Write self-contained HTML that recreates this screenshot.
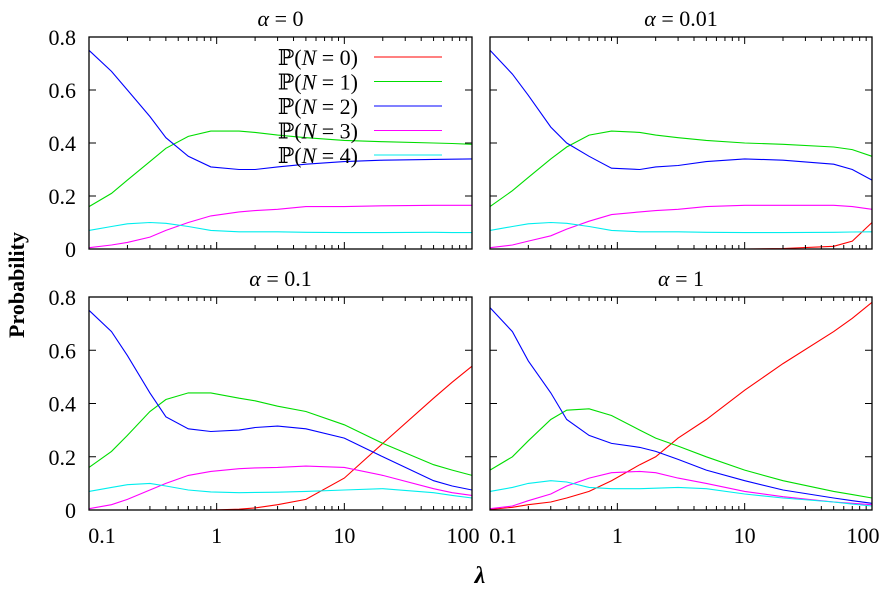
<!DOCTYPE html>
<html><head><meta charset="utf-8"><style>
body{margin:0;background:#fff}
text{font-family:"Liberation Serif","DejaVu Serif",serif}
</style></head><body>
<svg id="c" width="888" height="590" font-family="Liberation Serif, serif"></svg>
<script>
const xs=[0.1,0.15,0.2,0.3,0.4,0.6,0.9,1.5,2,3,5,10,20,50,70,100];
// alpha = 0
const a0_red=[0,0,0,0,0,0,0,0,0,0,0,0,0,0,0,0];
const a0_green=[0.16,0.21,0.26,0.33,0.38,0.425,0.445,0.445,0.44,0.43,0.42,0.41,0.405,0.4,0.398,0.395];
const a0_blue=[0.75,0.67,0.6,0.5,0.42,0.35,0.31,0.3,0.3,0.31,0.32,0.33,0.335,0.338,0.339,0.34];
const a0_mag=[0.005,0.015,0.025,0.045,0.07,0.1,0.125,0.14,0.145,0.15,0.16,0.16,0.163,0.165,0.165,0.165];
const a0_cyan=[0.07,0.085,0.095,0.1,0.097,0.085,0.07,0.065,0.065,0.065,0.063,0.062,0.062,0.063,0.062,0.062];
// alpha = 0.01
const a1_red=[0,0,0,0,0,0,0,0,0,0,0,0,0.002,0.01,0.03,0.1];
const a1_green=[0.16,0.22,0.27,0.34,0.385,0.43,0.445,0.44,0.43,0.42,0.41,0.4,0.395,0.385,0.375,0.35];
const a1_blue=[0.75,0.66,0.58,0.46,0.4,0.35,0.305,0.3,0.31,0.315,0.33,0.34,0.335,0.32,0.3,0.26];
const a1_mag=[0.005,0.015,0.03,0.05,0.075,0.105,0.13,0.14,0.145,0.15,0.16,0.165,0.165,0.165,0.16,0.15];
const a1_cyan=[0.07,0.085,0.095,0.1,0.097,0.085,0.07,0.065,0.065,0.065,0.063,0.062,0.062,0.063,0.064,0.065];
// alpha = 0.1
const a2_red=[0,0,0,0,0,0,0,0.003,0.008,0.02,0.04,0.12,0.25,0.42,0.48,0.54];
const a2_green=[0.16,0.22,0.28,0.37,0.415,0.44,0.44,0.42,0.41,0.39,0.37,0.32,0.25,0.17,0.15,0.13];
const a2_blue=[0.75,0.67,0.58,0.44,0.35,0.305,0.295,0.3,0.31,0.315,0.305,0.27,0.2,0.11,0.09,0.075];
const a2_mag=[0.005,0.02,0.04,0.075,0.1,0.13,0.145,0.155,0.158,0.16,0.165,0.16,0.13,0.08,0.065,0.055];
const a2_cyan=[0.07,0.085,0.095,0.1,0.09,0.075,0.068,0.065,0.066,0.067,0.07,0.075,0.08,0.065,0.055,0.045];
// alpha = 1
const a3_red=[0.002,0.01,0.02,0.03,0.045,0.07,0.11,0.17,0.2,0.27,0.34,0.45,0.55,0.67,0.72,0.78];
const a3_green=[0.15,0.2,0.26,0.34,0.375,0.38,0.355,0.3,0.27,0.24,0.2,0.15,0.11,0.07,0.058,0.045];
const a3_blue=[0.76,0.67,0.56,0.44,0.34,0.28,0.25,0.235,0.22,0.19,0.15,0.11,0.075,0.045,0.035,0.025];
const a3_mag=[0.005,0.015,0.035,0.06,0.09,0.12,0.14,0.145,0.14,0.12,0.1,0.07,0.05,0.03,0.025,0.02];
const a3_cyan=[0.07,0.085,0.1,0.11,0.105,0.085,0.08,0.08,0.082,0.085,0.08,0.06,0.045,0.03,0.022,0.015];
const titles=["α = 0","α = 0.01","α = 0.1","α = 1"];
const yTicks=[0,0.2,0.4,0.6,0.8];
const xTicks=[0.1,1,10,100];
const xTickLabels=["0.1","1","10","100"];
const legendLabels=["0","1","2","3","4"];
const colors=["#ff0000","#00dd00","#0000ff","#ff00ff","#00eeee"];
const panelsData=[[a0_red,a0_green,a0_blue,a0_mag,a0_cyan],[a1_red,a1_green,a1_blue,a1_mag,a1_cyan],[a2_red,a2_green,a2_blue,a2_mag,a2_cyan],[a3_red,a3_green,a3_blue,a3_mag,a3_cyan]];
const NS="http://www.w3.org/2000/svg";
const FF="Liberation Serif, DejaVu Serif, serif";
const svg=document.getElementById('c');
function mk(t,a,p){const e=document.createElementNS(NS,t);for(const k in a)e.setAttribute(k,a[k]);if(t==='text')e.setAttribute('font-family',FF);(p||svg).appendChild(e);return e;}
const boxes=[[89,37,472,249],[490,37,872,249],[89,297,472,510],[490,297,872,510]];
boxes.forEach((b,pi)=>{
  const [x0,y0,x1,y1]=b;
  const g=mk('g',{});
  
  
  const dec=(x1-x0)/3.0;
  const X=v=>x0+(Math.log10(v)+1)*dec;
  const Y=v=>y1-v/0.8*(y1-y0);
  panelsData[pi].forEach((s,si)=>{
    const p=mk('polyline',{points:s.map((v,i)=>X(xs[i]).toFixed(1)+','+Y(v).toFixed(1)).join(' '),fill:'none',stroke:colors[si],'stroke-width':1.1},g);
    
    
  });
  for(let d=-1;d<2;d++)for(let m=1;m<10;m++){const v=m*Math.pow(10,d);const x=X(v);if(x>x1+0.5)continue;const L=m==1?7:4;
    mk('line',{x1:x,y1:y1,x2:x,y2:y1-L,stroke:'#000'},g);mk('line',{x1:x,y1:y0,x2:x,y2:y0+L,stroke:'#000'},g);}
  mk('line',{x1:X(100),y1:y1,x2:X(100),y2:y1-7,stroke:'#000'},g);
  yTicks.forEach(v=>{const y=Y(v);mk('line',{x1:x0,y1:y,x2:x0+7,y2:y,stroke:'#000'},g);mk('line',{x1:x1,y1:y,x2:x1-7,y2:y,stroke:'#000'},g);
    if(pi%2==0){const t=mk('text',{x:76,y:y+8,'text-anchor':'end','font-size':22},g);t.textContent=String(v);}});
  if(pi>=2){xTicks.forEach((v,i)=>{let x=X(v);if(i==0)x+=13;if(i==3)x-=9;const t=mk('text',{x:x,y:543,'text-anchor':'middle','font-size':22},g);t.textContent=xTickLabels[i];});}
  mk('rect',{x:x0,y:y0,width:x1-x0,height:y1-y0,fill:'none',stroke:'#000','stroke-width':1.3},g);
  const tt=mk('text',{x:(x0+x1)/2,y:y0-11,'text-anchor':'middle','font-size':22},g);
  tt.innerHTML='<tspan font-style="italic">α</tspan> = '+titles[pi].split('= ')[1];
  
  
});
legendLabels.forEach((l,i)=>{const y=57+i*24.5;
  const t=mk('text',{x:358,y:y+8,'text-anchor':'end','font-size':22});t.innerHTML='ℙ(<tspan font-style="italic">N</tspan> = '+l+')';
  
  const ln=mk('line',{x1:374,y1:y,x2:442,y2:y,stroke:colors[i],'stroke-width':1.1});
  });
const yl=mk('text',{x:0,y:0,transform:'translate(24,285) rotate(-90)','text-anchor':'middle','font-size':22,'font-weight':'bold'});yl.textContent='Probability';

const xl=mk('text',{x:480,y:583,'text-anchor':'middle','font-size':24,'font-weight':'bold','font-style':'italic'});xl.textContent='λ';

</script>
</body></html>
